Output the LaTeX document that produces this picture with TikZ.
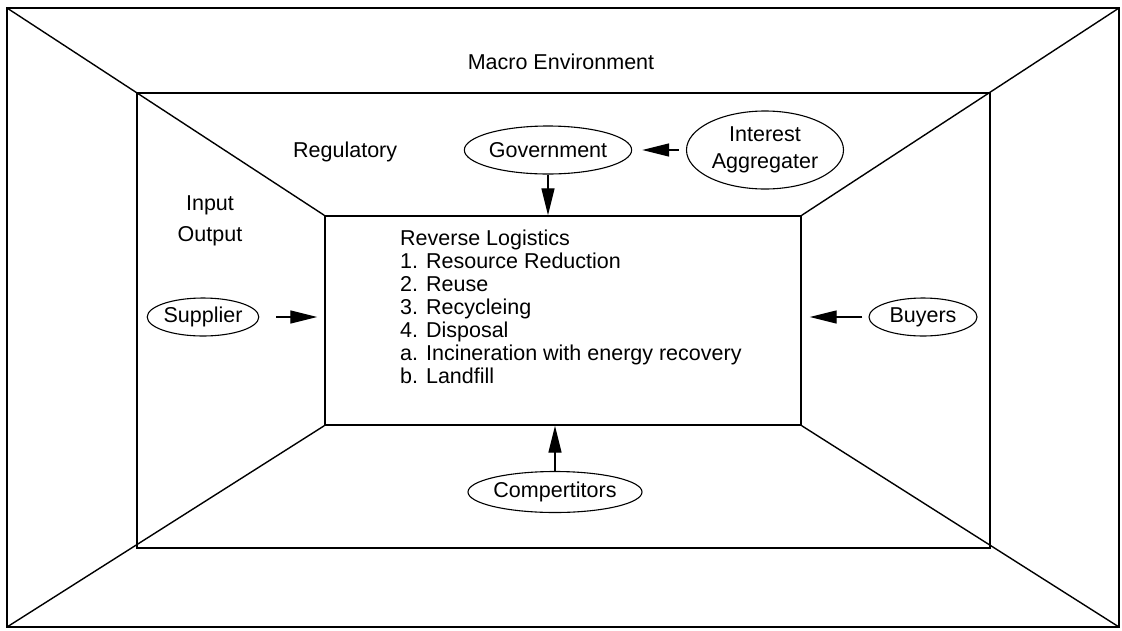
\documentclass[tikz,border=0pt]{standalone}
\usepackage{fontspec}
\setmainfont{Liberation Sans}
\usetikzlibrary{arrows.meta,shapes.geometric}
\begin{document}
\begin{tikzpicture}[x=1pt,y=-1pt,
  frame/.style={line width=1.4pt, line join=miter},
  lbl/.style={inner sep=0pt, font=\fontsize{21.5}{23}\selectfont},
  oval/.style={draw, ellipse, line width=1.1pt, inner sep=0pt, align=center,
    font=\fontsize{21.5}{27}\selectfont},
  arr/.style={line width=1.3pt, -{Triangle[length=27pt,width=13pt]}}
]
\useasboundingbox (0,0) rectangle (1122,630);
% frames
\coordinate (o1) at (7,8);   \coordinate (o2) at (1119,8);
\coordinate (o3) at (1119,627); \coordinate (o4) at (7,627);
\coordinate (m1) at (137,93); \coordinate (m3) at (990,548);
\node[frame, draw, minimum width=476pt, minimum height=209pt, inner sep=0pt] (inner) at (563,320.5) {};
\draw[frame] (o1) rectangle (o3);
\draw[frame] (m1) rectangle (m3);
\draw[frame] (o1) -- (inner.north west);
\draw[frame] (o2) -- (inner.north east);
\draw[frame] (o3) -- (inner.south east);
\draw[frame] (o4) -- (inner.south west);
% labels
\node[lbl] (macro) at (561,62) {Macro Environment};
\node[lbl, anchor=west] (reg) at (293,152) {Regulatory};
\node[lbl, align=center, anchor=north, font=\fontsize{21.5}{31}\selectfont] (io) at (210,196) {Input\\Output};
\node[lbl, align=left, anchor=north west] (list) at (400,230) {Reverse Logistics\\1. Resource Reduction\\2. Reuse\\3. Recycleing\\4. Disposal\\a. Incineration with energy recovery\\b. Landfill};
% ellipses
\node[oval, minimum width=157pt, minimum height=48pt] (gov) at (548,150) {Government};
\node[oval, minimum width=157pt, minimum height=78pt] (int) at (765,150) {Interest\\Aggregater};
\node[oval, minimum width=110pt, minimum height=38pt] (sup) at (203,317) {Supplier};
\node[oval, minimum width=108pt, minimum height=38pt] (buy) at (923,317) {Buyers};
\node[oval, minimum width=160pt, minimum height=41pt] (comp) at (555,492) {Compertitors};
% arrows
\draw[arr, shorten <=7pt, shorten >=10pt] (int.west) -- (gov.east);
\draw[arr] (gov.south) -- (gov.south |- inner.north);
\draw[arr, shorten <=17pt, shorten >=7pt] (sup.east) -- (sup.east -| inner.west);
\draw[arr, shorten <=6pt, shorten >=8pt] (buy.west) -- (buy.west -| inner.east);
\draw[arr] (comp.north) -- (comp.north |- inner.south);
\end{tikzpicture}
\end{document}
